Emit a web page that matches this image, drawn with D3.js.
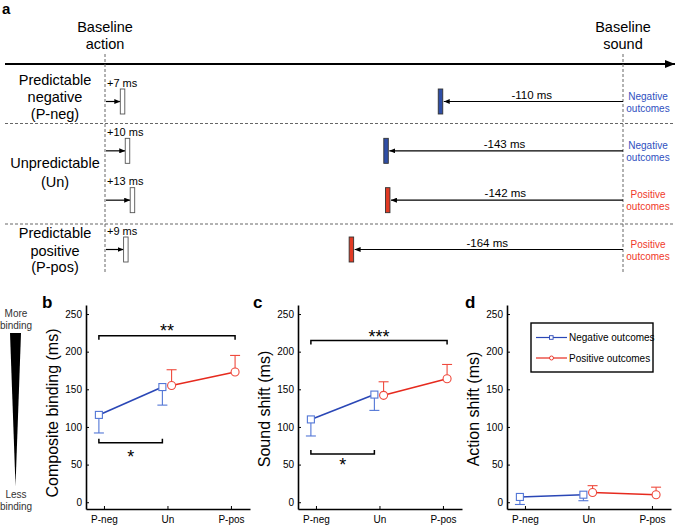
<!DOCTYPE html>
<html><head><meta charset="utf-8">
<script src="https://cdn.jsdelivr.net/npm/d3@7"></script>
<style>
html,body{margin:0;padding:0;background:#fff;}
svg{display:block;font-family:"Liberation Sans",Arial,Helvetica,sans-serif;}
</style></head>
<body>
<svg id="chart" width="675" height="525"></svg>
<script>
// ---------- Panel a data ----------
const aRowLabels = [["Predictable","negative","(P-neg)"], ["Unpredictable","(Un)"], ["Predictable","positive","(P-pos)"]];
const aActionShift = [7, 10, 13, 9];
const aSoundShift = [-110, -143, -142, -164];
const aOutcome = ["Negative", "Negative", "Positive", "Positive"];

// ---------- Panels b-d data ----------
const categories = ["P-neg", "Un", "P-pos"];
const yTicks = [0, 50, 100, 150, 200, 250];
const negIdx = [0, 1];   // negative outcomes at P-neg, Un
const posIdx = [1, 2];   // positive outcomes at Un, P-pos
const compNeg = [116, 153], compNegErr = [24, 24];
const compPos = [155, 173], compPosErr = [21, 22];
const soundNeg = [110, 143], soundNegErr = [22, 21];
const soundPos = [142, 164], soundPosErr = [18, 19];
const actionNeg = [7, 10], actionNegErr = [10, 8];
const actionPos = [13, 10], actionPosErr = [9, 10];
const legendLabels = ["Negative outcomes", "Positive outcomes"];

const BLUE_LINE = "#2a47b6", BLUE_MK = "#5276d6";
const RED_LINE = "#e62a1e", RED_MK = "#ef4a3d";
const BAR_BLUE = "#2f4ea6", BAR_RED = "#e13a24";
const TXT_BLUE = "#3050c0", TXT_RED = "#f0382a";

const svg = d3.select("#chart");

// ================= PANEL A =================
const actX = 105, sndX = 623;
const pxPerMs = 1.65;
const actScale = d3.scaleLinear().domain([0, 30]).range([actX + 6, actX + 6 + 30 * pxPerMs]);
const sndScale = d3.scaleLinear().domain([-300, 0]).range([sndX - 1 - 300 * pxPerMs, sndX - 1]);
const rowY = d3.scaleLinear().domain([0, 3]).range([101.5, 249.5]);

const defs = svg.append("defs");
function mk(id, w, h) {
  defs.append("marker").attr("id", id).attr("viewBox", `0 0 ${w} ${h}`)
    .attr("refX", w).attr("refY", h / 2).attr("markerWidth", w).attr("markerHeight", h)
    .attr("markerUnits", "userSpaceOnUse").attr("orient", "auto")
    .append("path").attr("d", `M0,0L${w},${h/2}L0,${h}Z`).attr("fill", "#000");
}
mk("ahBig", 10, 8); mk("ahSmall", 6, 5);

svg.append("text").attr("x", 2).attr("y", 14).attr("font-size", 15).attr("font-weight", "bold").text("a");

// timeline arrow
svg.append("line").attr("x1", 5).attr("x2", 675).attr("y1", 64).attr("y2", 64)
  .attr("stroke", "#000").attr("stroke-width", 2).attr("marker-end", "url(#ahBig)");

// baseline labels
[["Baseline", "action", actX], ["Baseline", "sound", sndX]].forEach(d => {
  svg.append("text").attr("x", d[2]).attr("y", 32).attr("text-anchor", "middle").attr("font-size", 14.5).text(d[0]);
  svg.append("text").attr("x", d[2]).attr("y", 49).attr("text-anchor", "middle").attr("font-size", 14.5).text(d[1]);
});

// dashed lines
[actX, sndX].forEach(x => svg.append("line").attr("x1", x).attr("x2", x).attr("y1", 54).attr("y2", 274)
  .attr("stroke", "#666").attr("stroke-width", 1).attr("stroke-dasharray", "3,2"));
[123.5, 224].forEach(y => svg.append("line").attr("x1", 5).attr("x2", 673).attr("y1", y).attr("y2", y)
  .attr("stroke", "#666").attr("stroke-width", 1).attr("stroke-dasharray", "3,2"));

// row labels
const labelBase = [[85, 102, 119], [168, 186.5], [238, 256, 272]];
aRowLabels.forEach((lines, i) => lines.forEach((t, j) =>
  svg.append("text").attr("x", 55).attr("y", labelBase[i][j]).attr("text-anchor", "middle")
    .attr("font-size", 14.5).text(t)));

const barW = 4.5, barH = 25;
aActionShift.forEach((ms, i) => {
  const y = rowY(i), cx = actScale(ms);
  svg.append("line").attr("x1", actX + 1).attr("x2", cx - barW / 2).attr("y1", y).attr("y2", y)
    .attr("stroke", "#000").attr("stroke-width", 1.2).attr("marker-end", "url(#ahSmall)");
  svg.append("rect").attr("x", cx - barW / 2).attr("y", y - barH / 2).attr("width", barW).attr("height", barH)
    .attr("fill", "#fff").attr("stroke", "#555").attr("stroke-width", 0.9);
  svg.append("text").attr("x", actX + 2).attr("y", y - 15).attr("font-size", 11).text("+" + ms + " ms");
});
aSoundShift.forEach((ms, i) => {
  const y = rowY(i), cx = sndScale(ms), neg = aOutcome[i] === "Negative";
  svg.append("line").attr("x1", sndX).attr("x2", cx + barW / 2 + 1).attr("y1", y).attr("y2", y)
    .attr("stroke", "#000").attr("stroke-width", 1.2).attr("marker-end", "url(#ahSmall)");
  svg.append("rect").attr("x", cx - barW / 2).attr("y", y - barH / 2).attr("width", barW).attr("height", barH)
    .attr("fill", neg ? BAR_BLUE : BAR_RED).attr("stroke", "#333").attr("stroke-width", 0.9);
  svg.append("text").attr("x", (sndX + cx) / 2).attr("y", y - 3).attr("text-anchor", "middle")
    .attr("font-size", 11.5).text(ms + " ms");
  const col = neg ? TXT_BLUE : TXT_RED;
  svg.append("text").attr("x", 648).attr("y", y - 2).attr("text-anchor", "middle").attr("font-size", 10)
    .attr("fill", col).text(aOutcome[i]);
  svg.append("text").attr("x", 648).attr("y", y + 10).attr("text-anchor", "middle").attr("font-size", 10)
    .attr("fill", col).text("outcomes");
});

// ================= LEFT SCALE ARROW =================
svg.append("text").attr("x", 16).attr("y", 317).attr("text-anchor", "middle").attr("font-size", 10).attr("fill", "#333").text("More");
svg.append("text").attr("x", 16).attr("y", 329).attr("text-anchor", "middle").attr("font-size", 10).attr("fill", "#333").text("binding");
svg.append("path").attr("d", "M10,333L21,333L15.5,486Z").attr("fill", "#000");
svg.append("text").attr("x", 16).attr("y", 498).attr("text-anchor", "middle").attr("font-size", 10).attr("fill", "#333").text("Less");
svg.append("text").attr("x", 16).attr("y", 510).attr("text-anchor", "middle").attr("font-size", 10).attr("fill", "#333").text("binding");

// ================= PANELS B-D =================
const panels = [
  {letter: "b", x0: 86, lx: 42, title: "Composite binding (ms)", tcy: 413,
   neg: compNeg, negErr: compNegErr, pos: compPos, posErr: compPosErr,
   brackets: [{a: [0, "n"], b: [2, "p"], y: 221, label: "**", dir: "down", off: 9},
              {a: [0, "n"], b: [1, "n"], y: 79, label: "*", dir: "up", off: 10}]},
  {letter: "c", x0: 298, lx: 253, title: "Sound shift (ms)", tcy: 409,
   neg: soundNeg, negErr: soundNegErr, pos: soundPos, posErr: soundPosErr,
   brackets: [{a: [0, "n"], b: [2, "p"], y: 215, label: "***", dir: "down", off: 8},
              {a: [0, "n"], b: [1, "n"], y: 64, label: "*", dir: "up", off: 7}]},
  {letter: "d", x0: 507, lx: 465, title: "Action shift (ms)", tcy: 409, legend: true,
   neg: actionNeg, negErr: actionNegErr, pos: actionPos, posErr: actionPosErr, brackets: []}
];

const y = d3.scaleLinear().domain([-9, 262]).range([509, 305]);
const NOFF = -0.08, POFF = 0.065;

panels.forEach(p => {
  const g = svg.append("g");
  const x = d3.scaleLinear().domain([-0.283, 2.3]).range([p.x0, p.x0 + 164]);

  g.append("text").attr("x", p.lx).attr("y", 308).attr("font-size", 17).attr("font-weight", "bold").text(p.letter);

  // y axis
  const ya = d3.axisLeft(y).tickValues(yTicks).tickSizeInner(-3).tickSizeOuter(0).tickPadding(4);
  const yg = g.append("g").attr("transform", `translate(${p.x0},0)`).call(ya);
  // x axis
  const xa = d3.axisBottom(x).tickValues([0, 1, 2]).tickFormat(i => categories[i])
    .tickSizeInner(-3).tickSizeOuter(0).tickPadding(7);
  const xg = g.append("g").attr("transform", `translate(0,509)`).call(xa);
  [yg, xg].forEach(ax => {
    ax.select(".domain").attr("stroke", "#000").attr("stroke-width", 1.6);
    ax.selectAll(".tick line").attr("stroke", "#000").attr("stroke-width", 1);
    ax.selectAll(".tick text").attr("font-size", 10).attr("font-family", "Liberation Sans, Arial, sans-serif").attr("fill", "#000");
  });

  // y title
  g.append("text").attr("transform", `translate(${p.x0 - 28},${p.tcy}) rotate(-90)`)
    .attr("text-anchor", "middle").attr("font-size", 16).text(p.title);

  // series
  const series = [
    {vals: p.neg, err: p.negErr, idx: negIdx, off: NOFF, line: BLUE_LINE, mk: BLUE_MK, dir: -1, shape: "sq"},
    {vals: p.pos, err: p.posErr, idx: posIdx, off: POFF, line: RED_LINE, mk: RED_MK, dir: 1, shape: "ci"}
  ];
  series.forEach(s => {
    const pts = s.vals.map((v, k) => ({x: x(s.idx[k] + s.off), y: y(v), ye: y(v + s.dir * s.err[k])}));
    g.append("path").attr("d", d3.line().x(d => d.x).y(d => d.y)(pts))
      .attr("fill", "none").attr("stroke", s.line).attr("stroke-width", 1.6);
    pts.forEach(d => {
      g.append("line").attr("x1", d.x).attr("x2", d.x).attr("y1", d.y).attr("y2", d.ye).attr("stroke", s.mk).attr("stroke-width", 1.1);
      g.append("line").attr("x1", d.x - 5).attr("x2", d.x + 5).attr("y1", d.ye).attr("y2", d.ye).attr("stroke", s.mk).attr("stroke-width", 1.1);
      if (s.shape === "sq")
        g.append("rect").attr("x", d.x - 3.5).attr("y", d.y - 3.5).attr("width", 7).attr("height", 7)
          .attr("fill", "#fff").attr("stroke", s.mk).attr("stroke-width", 1.1);
      else
        g.append("circle").attr("cx", d.x).attr("cy", d.y).attr("r", 4)
          .attr("fill", "#fff").attr("stroke", s.mk).attr("stroke-width", 1.1);
    });
  });

  // significance brackets
  p.brackets.forEach(b => {
    const xa_ = x(b.a[0] + (b.a[1] === "n" ? NOFF : POFF));
    const xb_ = x(b.b[0] + (b.b[1] === "n" ? NOFF : POFF));
    const yy = y(b.y), t = b.dir === "down" ? 4 : -4;
    g.append("path").attr("d", `M${xa_},${yy + t}L${xa_},${yy}L${xb_},${yy}L${xb_},${yy + t}`)
      .attr("fill", "none").attr("stroke", "#000").attr("stroke-width", 1.5);
    const cy = b.dir === "down" ? yy - b.off : yy + b.off;
    g.append("text").attr("x", (xa_ + xb_) / 2).attr("y", cy + 0.58 * 18).attr("text-anchor", "middle")
      .attr("font-size", 18).text(b.label);
  });

  if (p.legend) {
    const lg = g.append("g");
    lg.append("rect").attr("x", 531).attr("y", 323).attr("width", 122).attr("height", 49)
      .attr("fill", "#fff").attr("stroke", "#000").attr("stroke-width", 1.4);
    [[BLUE_LINE, "sq"], [RED_LINE, "ci"]].forEach((d, i) => {
      const ly = 337.5 + i * 20.5;
      lg.append("line").attr("x1", 536).attr("x2", 567).attr("y1", ly).attr("y2", ly).attr("stroke", d[0]).attr("stroke-width", 1.2);
      if (d[1] === "sq") lg.append("rect").attr("x", 549.5).attr("y", ly - 1.8).attr("width", 3.6).attr("height", 3.6)
        .attr("fill", "#fff").attr("stroke", d[0]).attr("stroke-width", 0.9);
      else lg.append("circle").attr("cx", 551.5).attr("cy", ly).attr("r", 2).attr("fill", "#fff").attr("stroke", d[0]).attr("stroke-width", 0.9);
      lg.append("text").attr("x", 569).attr("y", ly + 3.6).attr("font-size", 10).text(legendLabels[i]);
    });
  }
});
</script>
</body></html>
